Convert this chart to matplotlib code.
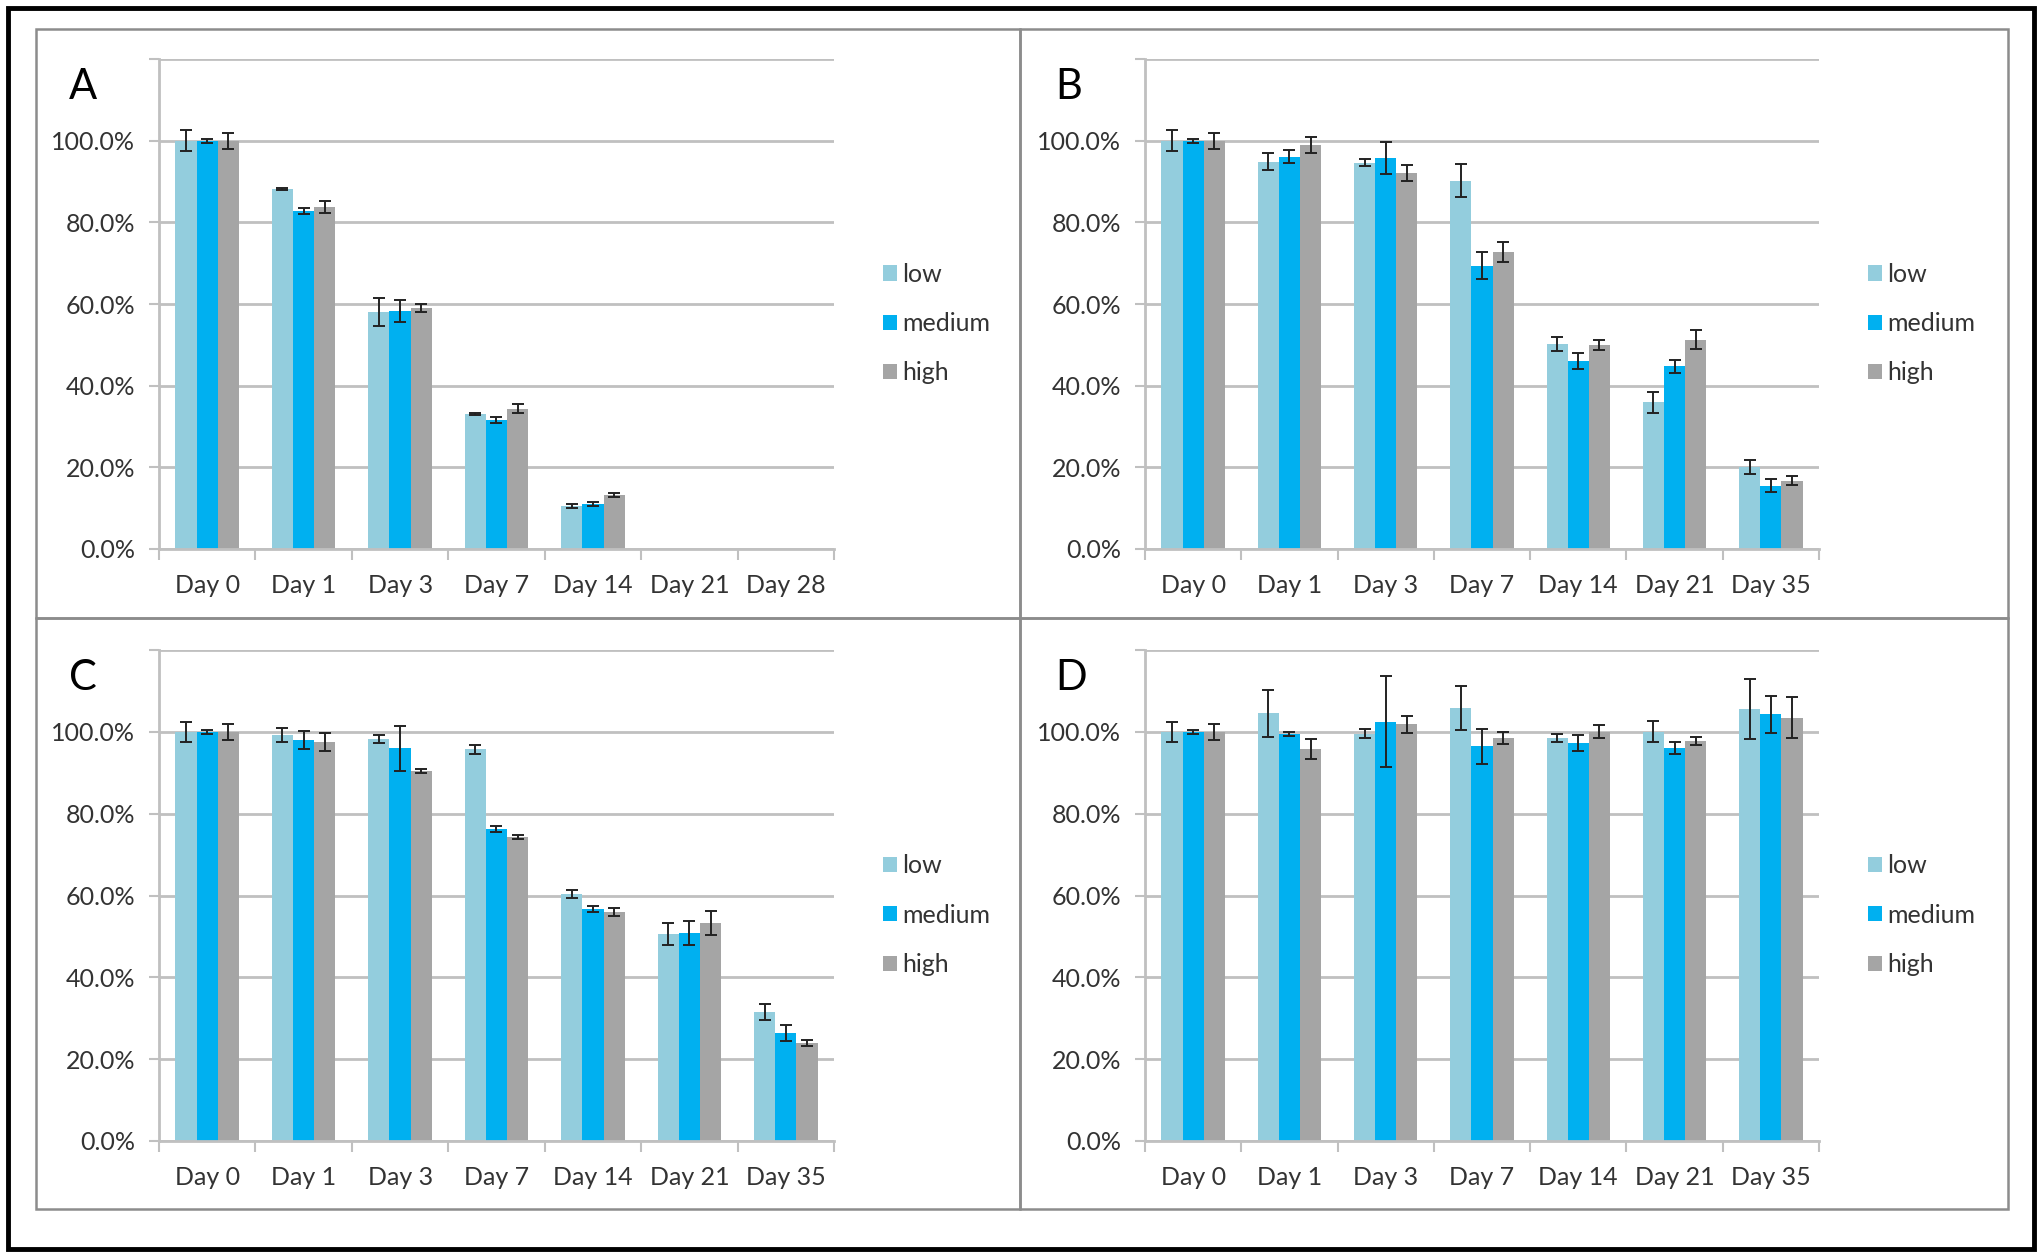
import matplotlib
matplotlib.use('Agg')
import matplotlib.pyplot as plt
from matplotlib.patches import Rectangle
import numpy as np

plt.rcParams['font.family'] = ['Lato', 'DejaVu Sans']

#%% Data (% of day 0)
days_a = ['Day 0', 'Day 1', 'Day 3', 'Day 7', 'Day 14', 'Day 21', 'Day 28']
days_bcd = ['Day 0', 'Day 1', 'Day 3', 'Day 7', 'Day 14', 'Day 21', 'Day 35']
series = ['low', 'medium', 'high']

a_low = [100, 88.2, 58.0, 33.1, 10.6, np.nan, np.nan]
a_med = [100, 82.8, 58.2, 31.6, 11.0, np.nan, np.nan]
a_high = [100, 83.8, 59.1, 34.4, 13.3, np.nan, np.nan]
a_low_err = [2.5, 0.3, 3.4, 0.3, 0.5, np.nan, np.nan]
a_med_err = [0.5, 0.8, 2.7, 0.8, 0.5, np.nan, np.nan]
a_high_err = [2.0, 1.5, 1.0, 1.1, 0.5, np.nan, np.nan]

b_low = [100, 94.8, 94.6, 90.2, 50.3, 35.9, 20.1]
b_med = [100, 96.1, 95.8, 69.4, 46.0, 44.7, 15.5]
b_high = [100, 98.9, 92.1, 72.7, 49.9, 51.3, 16.7]
b_low_err = [2.5, 2.1, 0.8, 4.0, 1.7, 2.5, 1.7]
b_med_err = [0.5, 1.6, 3.9, 3.3, 2.0, 1.7, 1.6]
b_high_err = [2.0, 1.9, 2.0, 2.5, 1.2, 2.3, 1.1]

c_low = [100, 99.2, 98.3, 95.7, 60.4, 50.6, 31.5]
c_med = [100, 98.0, 96.0, 76.3, 56.7, 50.8, 26.4]
c_high = [100, 97.5, 90.4, 74.3, 55.9, 53.2, 23.9]
c_low_err = [2.5, 1.7, 1.0, 1.2, 1.0, 2.6, 2.0]
c_med_err = [0.5, 2.2, 5.5, 0.7, 0.8, 2.9, 1.9]
c_high_err = [2.0, 2.2, 0.5, 0.5, 1.0, 2.9, 0.8]

d_low = [100, 104.5, 99.5, 105.8, 98.5, 100, 105.6]
d_med = [100, 99.5, 102.5, 96.5, 97.3, 96.1, 104.3]
d_high = [100, 95.8, 101.8, 98.5, 100, 97.8, 103.5]
d_low_err = [2.5, 5.7, 1.1, 5.3, 0.9, 2.6, 7.4]
d_med_err = [0.5, 0.5, 11.1, 4.3, 2.0, 1.4, 4.5]
d_high_err = [2.0, 2.4, 2.0, 1.4, 1.6, 1.0, 5.0]

colors = ['#93CDDD', '#00B0F0', '#A5A5A5']
grid_col = '#C0C0C0'
text_col = '#333333'

fig = plt.figure(figsize=(20.4, 12.56), dpi=100)

# panel frames (pixel coords of the figure)
W, H = 2040, 1256
def fx(x): return x / W
def fy(y): return 1 - y / H

fig.patches.append(Rectangle((fx(8), fy(1249)), fx(2034) - fx(8), fy(8) - fy(1249),
                             transform=fig.transFigure, fill=False, lw=3.5, ec='black'))
for (x0, y0, x1, y1) in [(36, 29, 1020, 618), (1020, 29, 2008, 618),
                         (36, 618, 1020, 1209), (1020, 618, 2008, 1209)]:
    fig.patches.append(Rectangle((fx(x0), fy(y1)), fx(x1) - fx(x0), fy(y0) - fy(y1),
                                 transform=fig.transFigure, fill=False, lw=1.8, ec='#8C8C8C'))

panels = [
    ('A', days_a, [a_low, a_med, a_high], [a_low_err, a_med_err, a_high_err], (159, 834, 59, 549)),
    ('B', days_bcd, [b_low, b_med, b_high], [b_low_err, b_med_err, b_high_err], (1145, 1819, 59, 549)),
    ('C', days_bcd, [c_low, c_med, c_high], [c_low_err, c_med_err, c_high_err], (159, 834, 650, 1141)),
    ('D', days_bcd, [d_low, d_med, d_high], [d_low_err, d_med_err, d_high_err], (1145, 1819, 650, 1141)),
]

w = 0.22
for letter, days, vals, errs, (px0, px1, py0, py1) in panels:
    ax = fig.add_axes([fx(px0), fy(py1), fx(px1) - fx(px0), fy(py0) - fy(py1)])
    x = np.arange(len(days))
    for i, (v, e, c, name) in enumerate(zip(vals, errs, colors, series)):
        ax.bar(x + (i - 1) * w, v, width=w, color=c, label=name, zorder=2)
        ax.errorbar(x + (i - 1) * w, v, yerr=e, fmt='none', ecolor='#222222',
                    elinewidth=1.4, capsize=4.5, capthick=1.4, zorder=3)
    ax.set_xlim(-0.5, len(days) - 0.5)
    ax.set_ylim(0, 120)
    ax.set_yticks(np.arange(0, 121, 20))
    ax.set_yticklabels([f'{t:.1f}%' if t < 120 else '' for t in np.arange(0, 121, 20)])
    ax.yaxis.grid(True, color=grid_col, lw=2, zorder=0)
    ax.set_axisbelow(True)
    ax.set_xticks(x)
    ax.set_xticklabels(days)
    ax.set_xticks(np.arange(-0.5, len(days), 1), minor=True)
    ax.tick_params(axis='x', which='major', length=0, pad=18, labelsize=18, labelcolor=text_col)
    ax.tick_params(axis='x', which='minor', length=8, width=1.5, color=grid_col)
    ax.tick_params(axis='y', length=7, width=1.5, color=grid_col, pad=10,
                   labelsize=18, labelcolor=text_col)
    for s in ['top', 'right']:
        ax.spines[s].set_visible(False)
    for s in ['left', 'bottom']:
        ax.spines[s].set_color(grid_col)
        ax.spines[s].set_linewidth(2)
    ax.legend(loc='center left', bbox_to_anchor=(1.04, 0.46), frameon=False,
              fontsize=18, handlelength=0.55, handleheight=0.55, handletextpad=0.2,
              labelspacing=1.05, labelcolor=text_col)
    fig.text(fx(px0 - 90), fy(py0 + 28), letter, fontsize=30, color='black',
             ha='left', va='center')

plt.savefig('out.png', dpi=100)
